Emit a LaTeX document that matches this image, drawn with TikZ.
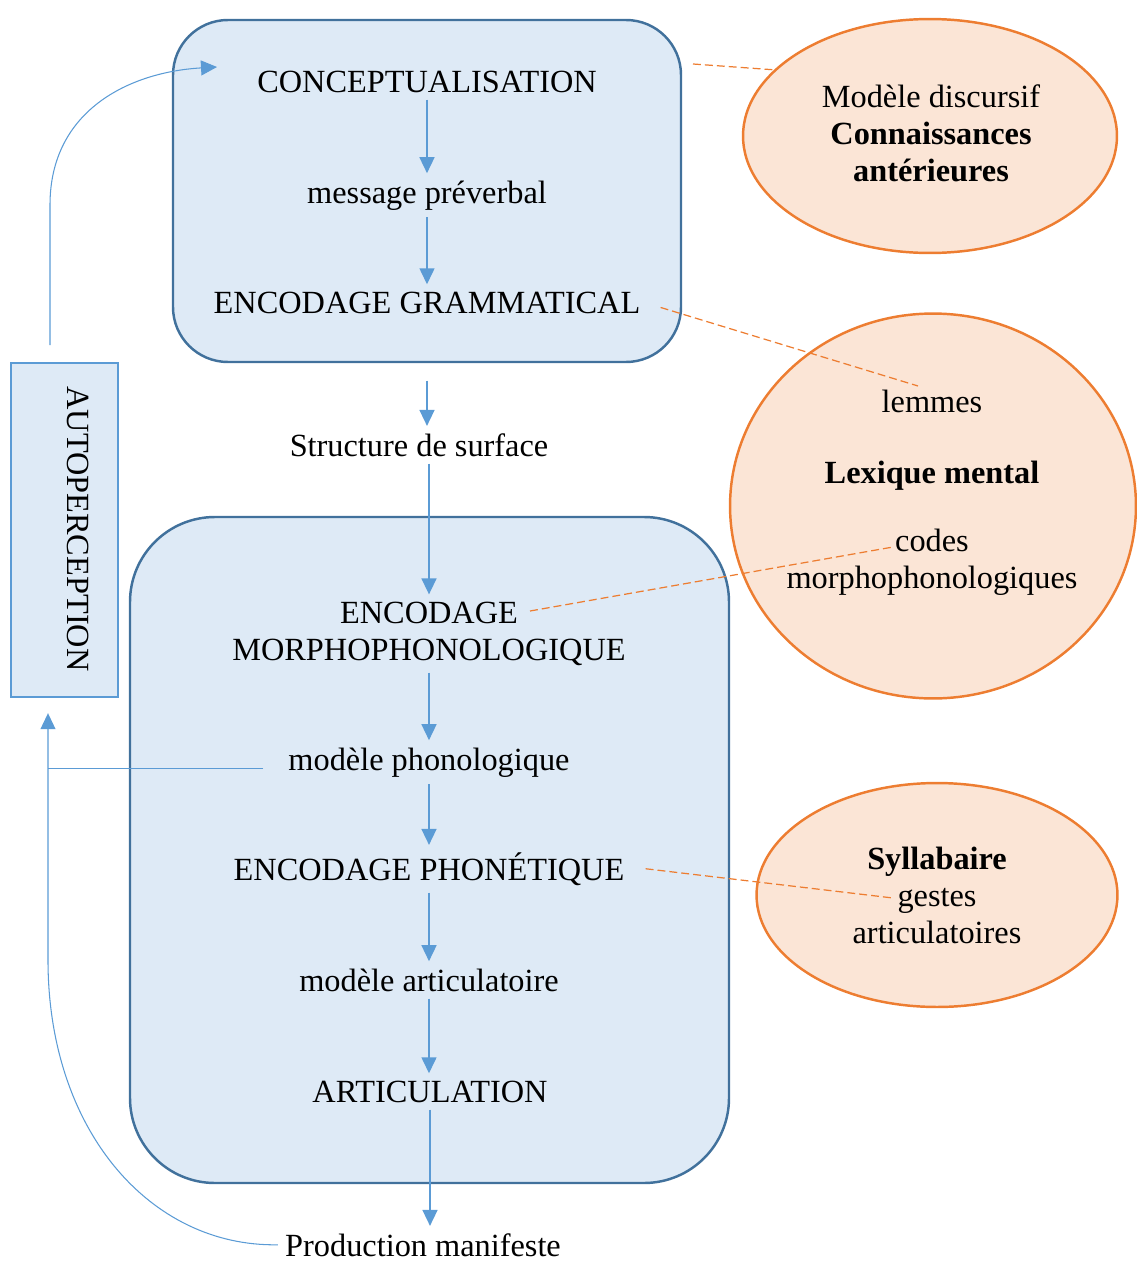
\documentclass[tikz,border=0pt]{standalone}
\usepackage{fontspec}
\setmainfont{Liberation Serif}
\usetikzlibrary{arrows.meta,shapes.geometric}

\definecolor{bleuclair}{HTML}{DEEAF6}
\definecolor{bleufonce}{HTML}{41719C}
\definecolor{bleufleche}{HTML}{5B9BD5}
\definecolor{orangeclair}{HTML}{FBE5D6}
\definecolor{orangefonce}{HTML}{ED7D31}

\begin{document}
\begin{tikzpicture}[x=0.02cm, y=-0.02cm,
    >={Triangle[length=0.32cm,width=0.3cm]},
    every node/.style={font=\fontsize{18.4}{21}\selectfont, inner sep=0.14cm},
    etape/.style={anchor=base, align=center},
    fleche/.style={->, bleufleche, line width=0.9pt},
    retour/.style={bleufleche, line width=0.6pt},
    lien/.style={orangefonce, line width=0.7pt, dash pattern=on 4.5pt off 2.3pt},
    bloc/.style={draw=bleufonce, fill=bleuclair, line width=1.4pt},
    bulle/.style={ellipse, draw=orangefonce, fill=orangeclair, line width=1.4pt, inner sep=0pt}]
    \useasboundingbox (0,0) rectangle (1136,1261);

    % les deux blocs de traitement
    \draw[bloc, rounded corners=1.1cm] (173,20) rectangle (681,362);
    \draw[bloc, rounded corners=1.7cm] (130,517) rectangle (729,1183);

    % boite d'autoperception
    \node[bloc, draw=bleufleche, minimum width=2.14cm, minimum height=6.68cm] (autobox) at (64.5,530) {};
    \node[rotate=-90] (autotexte) at (78,529) {AUTOPERCEPTION};

    % les bulles de connaissances
    \node[bulle, minimum width=7.48cm, minimum height=4.68cm] (discours) at (930,136) {};
    \node[bulle, minimum width=8.12cm, minimum height=7.7cm] (lexique) at (933,506) {};
    \node[bulle, minimum width=7.22cm, minimum height=4.48cm] (syllab) at (937,895) {};

    % etapes de la production (base = ligne du bas)
    \node[etape] (concept) at (427,92) {CONCEPTUALISATION};
    \node[etape] (msg) at (427,203) {message préverbal};
    \node[etape] (gram) at (427,313) {ENCODAGE GRAMMATICAL};
    \node[etape] (surf) at (419,456) {Structure de surface};
    \node[etape] (morpho) at (429,660) {ENCODAGE\\MORPHOPHONOLOGIQUE};
    \node[etape] (phono) at (429,770) {modèle phonologique};
    \node[etape] (phonet) at (429,880) {ENCODAGE PHONÉTIQUE};
    \node[etape] (artmod) at (429,991) {modèle articulatoire};
    \node[etape] (artic) at (430,1102) {ARTICULATION};
    \node[etape] (prod) at (423,1256) {Production manifeste};

    % textes des bulles
    \node[etape] (modele) at (931,181) {Modèle discursif\\\textbf{Connaissances}\\\textbf{antérieures}};
    \node[etape] (lemmes) at (932,412) {lemmes};
    \node[etape] (lexmental) at (932,483) {\textbf{Lexique mental}};
    \node[etape] (codes) at (932,588) {codes\\morphophonologiques};
    \node[etape] (syllabaire) at (937,943) {\textbf{Syllabaire}\\gestes\\articulatoires};

    % fleches verticales
    \draw[fleche] (concept.south) -- (concept.south |- msg.north);
    \draw[fleche] (msg.south) -- (msg.south |- gram.north);
    \draw[fleche, shorten <=1.2cm] (gram.south) -- (gram.south |- surf.north);
    \draw[fleche] (surf.south -| morpho) -- (morpho.north);
    \draw[fleche] (morpho.south) -- (morpho.south |- phono.north);
    \draw[fleche] (phono.south) -- (phono.south |- phonet.north);
    \draw[fleche] (phonet.south) -- (phonet.south |- artmod.north);
    \draw[fleche] (artmod.south) -- (artmod.south |- artic.north);
    \draw[fleche] (artic.south) -- (artic.south |- prod.north);

    % liens pointilles vers les bulles
    \coordinate (debconcept) at (693,64);
    \coordinate (finlemmes) at (918,386);
    \coordinate (debencod) at (530,611);
    \coordinate (fincodes) at (893,547);
    \coordinate (fingestes) at (893,898);
    \draw[lien] (debconcept) -- (discours.157);
    \draw[lien] ([xshift=0.26cm,yshift=-0.1cm]gram.east) -- (finlemmes);
    \draw[lien] (debencod) -- (fincodes);
    \draw[lien] ([xshift=0.28cm]phonet.east) -- (fingestes);

    % boucles de retour
    \coordinate (departhaut) at (50,345);
    \coordinate (pointeconcept) at (217,67);
    \coordinate (axeretour) at (48,768);
    \draw[retour, ->] (departhaut) -- (50,205) .. controls (50,110) and (130,72) .. (pointeconcept);
    \draw[retour] ([xshift=-0.36cm,yshift=-0.12cm]phono.west) coordinate (dp) -- (dp -| axeretour);
    \draw[retour, ->, shorten >=0.3cm] (prod.west) .. controls (150,1247) and (48,1130) .. (48,960)
        -- (autobox.south -| axeretour);
\end{tikzpicture}
\end{document}
